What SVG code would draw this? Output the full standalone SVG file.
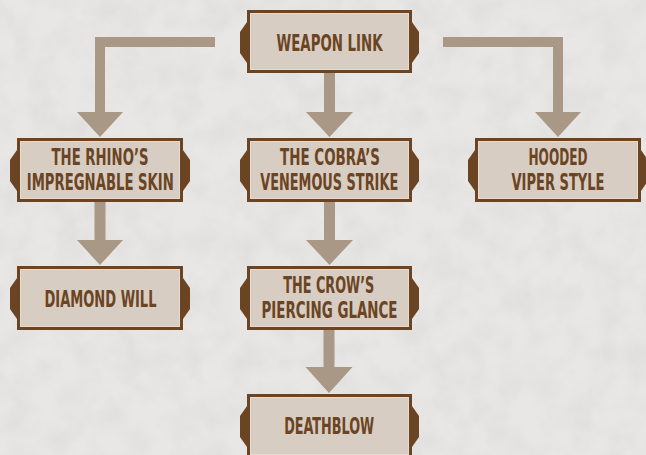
<svg xmlns="http://www.w3.org/2000/svg" width="646" height="455" viewBox="0 0 646 455">
  <defs>
    <filter id="grain" x="0" y="0" width="100%" height="100%">
      <feTurbulence type="fractalNoise" baseFrequency="0.035" numOctaves="4" seed="7" result="n"/>
      <feColorMatrix in="n" type="matrix" values="0 0 0 0 0.55  0 0 0 0 0.55  0 0 0 0 0.55  0 0 0 -1.1 0.75"/>
    </filter>
    <style>
      .box { fill: #d7cdc2; stroke: #6b4423; stroke-width: 3; }
      .inner { fill: none; stroke: #e9e1d8; stroke-width: 1; opacity: 0.7; }
      .tab { fill: #6b4423; }
      .lbl { font-family: "DejaVu Sans", "Liberation Sans", sans-serif; font-stretch: condensed; font-weight: bold; font-size: 23px; fill: #6b4423; text-anchor: middle; }
      .arrow { fill: #a89885; }
    </style>
  </defs>

  <rect x="0" y="0" width="646" height="455" fill="#e8e7e5"/>
  <rect x="0" y="0" width="646" height="455" filter="url(#grain)" opacity="0.35"/>

  <g id="connectors">
    <path class="arrow" d="M215,37 H95 V112 H77 L100,137 L123,112 H105 V47 H215 Z"/>
    <path class="arrow" d="M443,37 H563 V112 H581 L558,137 L535,112 H553 V47 H443 Z"/>
    <path class="arrow" d="M324,72 H335 V112 H353 L329.5,137 L306,112 H324 Z"/>
    <path class="arrow" d="M94.5,201 H105.5 V240 H123 L100,265 L77,240 H94.5 Z"/>
    <path class="arrow" d="M324,201 H335 V240 H353 L329.5,265 L306,240 H324 Z"/>
    <path class="arrow" d="M323.5,329 H334.5 V367 H352.5 L329,393 L305.5,367 H323.5 Z"/>
  </g>

  <g id="weapon-link">
    <polygon class="tab" points="247,22 240,32 240,53 247,63"/>
    <polygon class="tab" points="412,22 419,32 419,53 412,63"/>
    <rect class="box" x="248.5" y="11.5" width="162" height="60"/>
    <rect class="inner" x="250.5" y="13.5" width="158" height="56"/>
    <text class="lbl" x="329.5" y="50.7" textLength="106" lengthAdjust="spacingAndGlyphs">WEAPON LINK</text>
  </g>

  <g id="rhino">
    <polygon class="tab" points="17,150 10,160 10,181 17,191"/>
    <polygon class="tab" points="183,150 190,160 190,181 183,191"/>
    <rect class="box" x="18.5" y="139.5" width="163" height="61"/>
    <rect class="inner" x="20.5" y="141.5" width="159" height="57"/>
    <text class="lbl" x="100" y="165" textLength="97" lengthAdjust="spacingAndGlyphs">THE RHINO’S</text>
    <text class="lbl" x="100.3" y="190" textLength="147" lengthAdjust="spacingAndGlyphs">IMPREGNABLE SKIN</text>
  </g>

  <g id="cobra">
    <polygon class="tab" points="247,150 240,160 240,181 247,191"/>
    <polygon class="tab" points="412,150 419,160 419,181 412,191"/>
    <rect class="box" x="248.5" y="139.5" width="162" height="61"/>
    <rect class="inner" x="250.5" y="141.5" width="158" height="57"/>
    <text class="lbl" x="330" y="165" textLength="100" lengthAdjust="spacingAndGlyphs">THE COBRA’S</text>
    <text class="lbl" x="329.2" y="190" textLength="138" lengthAdjust="spacingAndGlyphs">VENEMOUS STRIKE</text>
  </g>

  <g id="hooded">
    <polygon class="tab" points="475,150 468,160 468,181 475,191"/>
    <polygon class="tab" points="641,150 648,160 648,181 641,191"/>
    <rect class="box" x="476.5" y="139.5" width="163" height="61"/>
    <rect class="inner" x="478.5" y="141.5" width="159" height="57"/>
    <text class="lbl" x="558" y="165" textLength="59" lengthAdjust="spacingAndGlyphs">HOODED</text>
    <text class="lbl" x="558" y="190" textLength="93" lengthAdjust="spacingAndGlyphs">VIPER STYLE</text>
  </g>

  <g id="diamond-will">
    <polygon class="tab" points="17,278 10,288 10,309 17,319"/>
    <polygon class="tab" points="183,278 190,288 190,309 183,319"/>
    <rect class="box" x="18.5" y="267.5" width="163" height="61"/>
    <rect class="inner" x="20.5" y="269.5" width="159" height="57"/>
    <text class="lbl" x="100.5" y="306.7" textLength="112" lengthAdjust="spacingAndGlyphs">DIAMOND WILL</text>
  </g>

  <g id="crow">
    <polygon class="tab" points="247,278 240,288 240,309 247,319"/>
    <polygon class="tab" points="412,278 419,288 419,309 412,319"/>
    <rect class="box" x="248.5" y="267.5" width="162" height="61"/>
    <rect class="inner" x="250.5" y="269.5" width="158" height="57"/>
    <text class="lbl" x="328.8" y="293" textLength="91" lengthAdjust="spacingAndGlyphs">THE CROW’S</text>
    <text class="lbl" x="329.5" y="318" textLength="136" lengthAdjust="spacingAndGlyphs">PIERCING GLANCE</text>
  </g>

  <g id="deathblow">
    <polygon class="tab" points="247,406 240,416 240,437 247,447"/>
    <polygon class="tab" points="412,406 419,416 419,437 412,447"/>
    <rect class="box" x="248.5" y="395.5" width="162" height="61"/>
    <rect class="inner" x="250.5" y="397.5" width="158" height="57"/>
    <text class="lbl" x="329.2" y="434.3" textLength="90" lengthAdjust="spacingAndGlyphs">DEATHBLOW</text>
  </g>
</svg>
